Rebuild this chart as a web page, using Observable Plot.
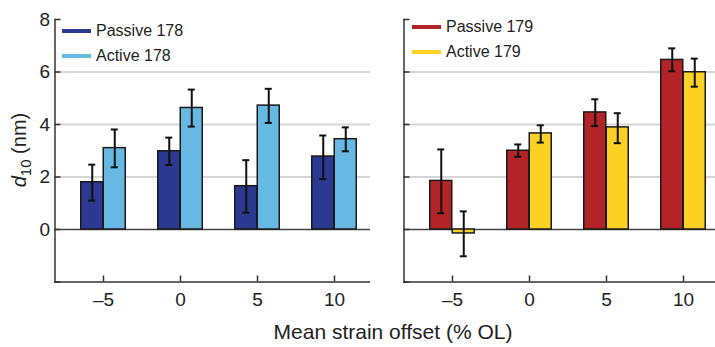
<!DOCTYPE html>
<html><head><meta charset="utf-8">
<script src="https://cdn.jsdelivr.net/npm/d3@7"></script>
<script src="https://cdn.jsdelivr.net/npm/@observablehq/plot@0.6"></script>
<style>
body{margin:0;background:#fff;font-family:"Liberation Sans",Arial,sans-serif;color:#222;}
#wrap{position:relative;width:715px;height:347px;overflow:hidden;}
#left{position:absolute;left:0;top:0;}
#right{position:absolute;left:360px;top:0;}
.row{position:absolute;height:18px;display:flex;align-items:center;font-size:16px;white-space:nowrap;}
.sw{width:29px;height:3.5px;margin-right:5px;}
#xlabel{position:absolute;top:321px;left:393px;transform:translateX(-50%);font-size:21px;line-height:21px;white-space:nowrap;}
#ylabel{position:absolute;left:-41px;top:140px;width:120px;height:20px;line-height:20px;text-align:center;font-size:20px;transform:rotate(-90deg);white-space:nowrap;}
#ylabel sub{font-size:15px;vertical-align:-5px;line-height:0;}
</style></head>
<body><div id="wrap"></div>
<script>
const offsets = [-5, 0, 5, 10];
const yTickValues = [-2, 0, 2, 4, 6, 8];
const yLabelValues = [0, 2, 4, 6, 8];
const gridValues = [2, 4, 6];

const seriesNames = ["Passive 178", "Active 178", "Passive 179", "Active 179"];
const seriesColors = ["#2b3990", "#67b8e3", "#b22427", "#fbd224"];

const passive178 = [1.80, 2.98, 1.65, 2.78];
const passive178Lo = [1.10, 2.46, 0.64, 1.92];
const passive178Hi = [2.47, 3.50, 2.64, 3.58];
const active178 = [3.10, 4.63, 4.72, 3.44];
const active178Lo = [2.37, 3.92, 4.06, 2.98];
const active178Hi = [3.81, 5.33, 5.36, 3.89];

const passive179 = [1.85, 3.00, 4.46, 6.46];
const passive179Lo = [0.62, 2.77, 3.94, 6.03];
const passive179Hi = [3.05, 3.24, 4.96, 6.90];
const active179 = [-0.15, 3.66, 3.89, 5.99];
const active179Lo = [-1.02, 3.31, 3.29, 5.44];
const active179Hi = [0.69, 3.97, 4.43, 6.51];

function rows(vals, lo, hi) {
  return offsets.map((o, i) => ({offset: o, value: vals[i], lo: lo[i], hi: hi[i]}));
}

const fmt = d => d < 0 ? "\u2013" + Math.abs(d) : String(d);
const axisColor = "#333";

function panel({width, marginLeft, range, left, right, leftColor, rightColor, yLabels}) {
  const barMarks = (data, color, dx) => [
    Plot.barY(data, {x: "offset", y: "value", dx, fill: color, stroke: "#1a1a1a", strokeWidth: 1.5}),
    Plot.ruleX(data, {x: "offset", y1: "lo", y2: "hi", dx, stroke: "#111", strokeWidth: 2}),
    Plot.tickY(data, {x: "offset", y: "hi", dx, insetLeft: 7.5, insetRight: 7.5, stroke: "#111", strokeWidth: 2}),
    Plot.tickY(data, {x: "offset", y: "lo", dx, insetLeft: 7.5, insetRight: 7.5, stroke: "#111", strokeWidth: 2})
  ];
  return Plot.plot({
    width, height: 310,
    marginTop: 19, marginBottom: 28.5, marginLeft, marginRight: 0,
    x: {type: "band", domain: offsets, range, paddingInner: 0.71, paddingOuter: 0.355, axis: null, label: null},
    y: {domain: [-2, 8], axis: null, label: null},
    style: {fontFamily: "Liberation Sans, Arial, sans-serif", fontSize: "19px", color: "#222", background: "transparent"},
    marks: [
      Plot.ruleY(gridValues, {stroke: "#d6d6d6", strokeWidth: 2}),
      Plot.ruleY([0], {stroke: "#444", strokeWidth: 1.5}),
      ...barMarks(left, leftColor, -11.25),
      ...barMarks(right, rightColor, 11.25),
      Plot.frame({anchor: "left", stroke: axisColor, strokeWidth: 1.5}),
      Plot.frame({anchor: "bottom", stroke: axisColor, strokeWidth: 1.5}),
      Plot.axisY({ticks: yTickValues, tickSize: 6, dx: 6, tickFormat: () => "", stroke: axisColor, strokeWidth: 1.5}),
      yLabels ? Plot.axisY({ticks: yLabelValues, tickSize: 0, tickPadding: 5, tickFormat: fmt, fontSize: 19, fill: "#222"}) : null,
      Plot.axisX({tickSize: 6, dy: -6, tickFormat: () => "", stroke: axisColor, strokeWidth: 1.5}),
      Plot.axisX({tickSize: 0, tickPadding: 10, tickFormat: fmt, fontSize: 19, fill: "#222"})
    ]
  });
}

const wrap = document.getElementById("wrap");

const leftSvg = panel({width: 370, marginLeft: 54.5, range: [63.5, 373.8],
  left: rows(passive178, passive178Lo, passive178Hi), right: rows(active178, active178Lo, active178Hi),
  leftColor: seriesColors[0], rightColor: seriesColors[1], yLabels: true});
leftSvg.id = "left";
wrap.appendChild(leftSvg);

const rightSvg = panel({width: 355, marginLeft: 43.5, range: [52.9, 362.8],
  left: rows(passive179, passive179Lo, passive179Hi), right: rows(active179, active179Lo, active179Hi),
  leftColor: seriesColors[2], rightColor: seriesColors[3], yLabels: false});
rightSvg.id = "right";
wrap.appendChild(rightSvg);

function legendRow(name, color, x, y) {
  const r = document.createElement("div");
  r.className = "row";
  r.style.left = x + "px";
  r.style.top = (y - 9) + "px";
  const s = document.createElement("div");
  s.className = "sw";
  s.style.background = color;
  r.appendChild(s);
  r.appendChild(document.createTextNode(name));
  wrap.appendChild(r);
}
legendRow(seriesNames[0], seriesColors[0], 62, 31);
legendRow(seriesNames[1], seriesColors[1], 62, 56);
legendRow(seriesNames[2], seriesColors[2], 412, 27);
legendRow(seriesNames[3], seriesColors[3], 412, 52);

const xl = document.createElement("div");
xl.id = "xlabel";
xl.textContent = "Mean strain offset (% OL)";
wrap.appendChild(xl);

const yl = document.createElement("div");
yl.id = "ylabel";
yl.innerHTML = "<i>d</i><sub>10</sub> (nm)";
wrap.appendChild(yl);
</script></body></html>
